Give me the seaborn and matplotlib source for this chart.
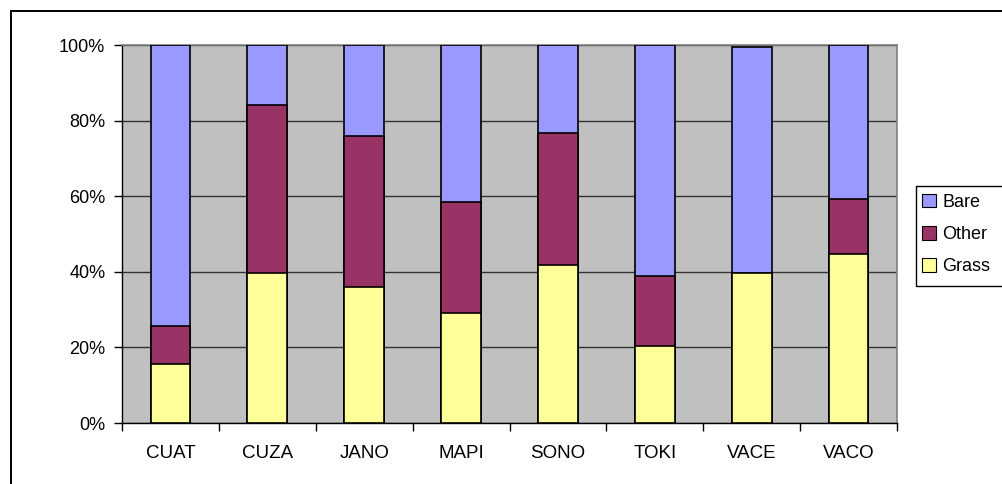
import matplotlib
matplotlib.use("Agg")
import matplotlib.pyplot as plt
from matplotlib.patches import Rectangle, Patch
from matplotlib.ticker import FixedLocator, PercentFormatter
import numpy as np
import pandas as pd
import seaborn as sns

sites = ["CUAT", "CUZA", "JANO", "MAPI", "SONO", "TOKI", "VACE", "VACO"]
grass = [15.5, 39.6, 36.1, 29.1, 41.8, 20.3, 39.6, 44.8]
other = [10.1, 44.6, 39.8, 29.3, 35.0, 18.5, 0.0, 14.5]
bare = [74.4, 15.8, 24.1, 41.6, 23.2, 61.2, 60.0, 40.7]

series_names = ["Bare", "Other", "Grass"]
colors = {"Bare": "#9999FF", "Other": "#993366", "Grass": "#FFFF99"}

sns.set_theme(style="white")
plt.rcParams["font.family"] = ["Liberation Sans", "DejaVu Sans"]

df = pd.DataFrame({"site": sites, "Grass": grass, "Other": other, "Bare": bare})
df["top_grass"] = df["Grass"]
df["top_other"] = df["Grass"] + df["Other"]
df["top_bare"] = df["Grass"] + df["Other"] + df["Bare"]

W, H = 1002, 484
fig = plt.figure(figsize=(W / 100, H / 100), dpi=100)
fig.patch.set_facecolor("white")

# outer chart frame (runs past the right and bottom edges)
fig.patches.append(Rectangle((10.5 / W, -0.05), 1.1, 1 - 10.5 / H + 0.05,
                             transform=fig.transFigure, fill=False,
                             edgecolor="black", linewidth=1.4, zorder=0))

ax = fig.add_axes([122 / W, (H - 423) / H, (897 - 122) / W, (423 - 45) / H])
ax.set_facecolor("#C0C0C0")

# stacked layers drawn from the tallest cumulative total down
for col, name in [("top_bare", "Bare"), ("top_other", "Other"), ("top_grass", "Grass")]:
    sns.barplot(data=df, x="site", y=col, color=colors[name], saturation=1,
                width=0.41, edgecolor="black", linewidth=1.2, ax=ax, zorder=3)

ax.set_ylim(0, 100)
ax.set_xlim(-0.5, len(sites) - 0.5)
ax.set_yticks([0, 20, 40, 60, 80, 100])
ax.yaxis.set_major_formatter(PercentFormatter(decimals=0))
ax.yaxis.grid(True, color="#333333", linewidth=1.0, zorder=1)
ax.set_axisbelow(True)
ax.set_xlabel("")
ax.set_ylabel("")

ax.tick_params(axis="y", which="major", direction="out", length=6, width=1,
               color="black", labelcolor="black", labelsize=13, pad=6, left=True)
ax.tick_params(axis="x", which="major", length=0, labelsize=13.5,
               labelcolor="black", pad=16)
ax.xaxis.set_minor_locator(FixedLocator(np.arange(-0.5, len(sites), 1.0)))
ax.tick_params(axis="x", which="minor", direction="out", length=6, width=1,
               color="black", bottom=True)

for side in ["left", "bottom"]:
    ax.spines[side].set_color("black")
    ax.spines[side].set_linewidth(1.0)
for side in ["top", "right"]:
    ax.spines[side].set_color("#808080")
    ax.spines[side].set_linewidth(1.2)
    ax.spines[side].set_visible(True)

# legend box, open to the right edge
fig.patches.append(Rectangle((915.5 / W, (H - 286) / H), 0.2, 100 / H,
                             transform=fig.transFigure, facecolor="white",
                             edgecolor="black", linewidth=1.0, zorder=1))
handles = [Patch(facecolor=colors[n], edgecolor="black", linewidth=0.8, label=n)
           for n in series_names]
leg = fig.legend(handles=handles, loc="center left",
                 bbox_to_anchor=(922 / W, 1 - 234.5 / H),
                 frameon=False, fontsize=13, handlelength=0.78,
                 handleheight=0.78, handletextpad=0.35, borderpad=0.0,
                 labelspacing=0.85, borderaxespad=0.0)
for t in leg.get_texts():
    t.set_color("black")
leg.set_zorder(2)

fig.savefig("out.png", dpi=100, facecolor="white")
